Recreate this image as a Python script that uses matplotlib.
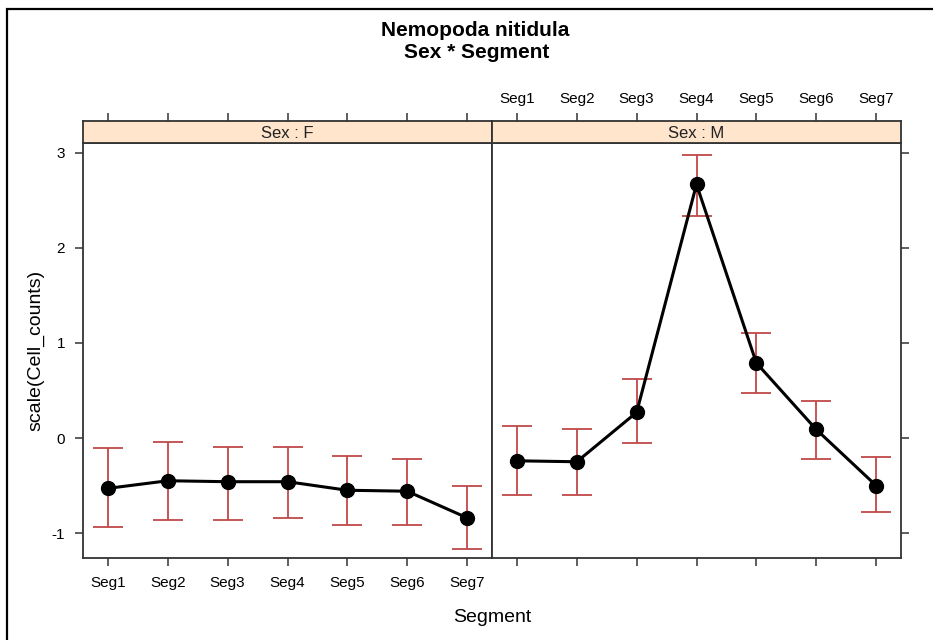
import matplotlib.pyplot as plt
from matplotlib.patches import Rectangle

plt.rcParams['font.family'] = ['Liberation Sans', 'DejaVu Sans']
plt.rcParams['axes.unicode_minus'] = False

# Effect estimates with confidence limits, one list per sex
segments = ['Seg1', 'Seg2', 'Seg3', 'Seg4', 'Seg5', 'Seg6', 'Seg7']

fit_f = [-0.53, -0.45, -0.46, -0.46, -0.55, -0.56, -0.84]
upper_f = [-0.10, -0.04, -0.09, -0.09, -0.19, -0.22, -0.50]
lower_f = [-0.94, -0.86, -0.86, -0.84, -0.92, -0.92, -1.17]

fit_m = [-0.24, -0.25, 0.27, 2.67, 0.79, 0.09, -0.50]
upper_m = [0.13, 0.09, 0.62, 2.98, 1.10, 0.39, -0.20]
lower_m = [-0.60, -0.60, -0.05, 2.34, 0.47, -0.22, -0.78]

panels = [('Sex : F', fit_f, lower_f, upper_f),
          ('Sex : M', fit_m, lower_m, upper_m)]

W, H = 933, 640
fig = plt.figure(figsize=(W / 100, H / 100), dpi=100)

def box(x0, y0, x1, y1):
    # pixel box (top-left origin) -> figure fraction rect
    return [x0 / W, (H - y1) / H, (x1 - x0) / W, (y1 - y0) / H]

edge = '#333333'
bar_col = '#C04848'
xs = list(range(1, len(segments) + 1))
xlim = (1 - 25 / 60, len(segments) + 25 / 60)
ylim = (-1.263, 3.105)

for i, (strip_txt, fit, lo, hi) in enumerate(panels):
    x0 = 83 + i * 409
    ax = fig.add_axes(box(x0, 143, x0 + 409, 558))
    strip = fig.add_axes(box(x0, 121, x0 + 409, 143))

    err = [[f - l for f, l in zip(fit, lo)], [h - f for f, h in zip(fit, hi)]]
    ax.errorbar(xs, fit, yerr=err, fmt='none', ecolor=bar_col,
                elinewidth=1.3, capsize=10.5, capthick=1.3, zorder=2)
    ax.plot(xs, fit, color='black', linewidth=2.2, marker='o',
            markersize=10, zorder=3)

    ax.set_xlim(xlim)
    ax.set_ylim(ylim)
    ax.set_xticks(xs)
    ax.set_yticks([-1, 0, 1, 2, 3])
    for s in ax.spines.values():
        s.set_color(edge)
        s.set_linewidth(1.3)

    ax.tick_params(length=6, width=1.1, color=edge, labelsize=11,
                   direction='out', pad=7)
    if i == 0:
        ax.set_xticklabels(segments)
        ax.tick_params(axis='y', left=True, labelleft=True, right=False)
        ax.set_ylabel('scale(Cell_counts)', fontsize=14, labelpad=5)
    else:
        ax.set_xticklabels([])
        ax.tick_params(axis='y', left=False, labelleft=False,
                       right=True, labelright=False)

    # strip header with top ticks
    strip.set_facecolor('#FFE5CC')
    strip.set_xlim(xlim)
    strip.set_ylim(0, 1)
    strip.set_yticks([])
    strip.set_xticks(xs)
    strip.xaxis.tick_top()
    strip.tick_params(axis='x', length=6, width=1.1, color=edge,
                      labelsize=11, pad=5, bottom=False)
    if i == 1:
        strip.set_xticklabels(segments)
    else:
        strip.set_xticklabels([])
    for s in strip.spines.values():
        s.set_color(edge)
        s.set_linewidth(1.3)
    strip.text(0.5, 0.45, strip_txt, transform=strip.transAxes,
               ha='center', va='center', fontsize=12, color='#222222')

fig.text(475 / W, 1 - 31 / H, 'Nemopoda nitidula', ha='center', va='center',
         fontsize=15, fontweight='bold')
fig.text(477 / W, 1 - 52 / H, 'Sex * Segment', ha='center', va='center',
         fontsize=15, fontweight='bold')
fig.text(492 / W, 1 - 618 / H, 'Segment', ha='center', va='center',
         fontsize=14)

# outer frame
fig.patches.append(Rectangle((7 / W, -0.1), 1.2, 1.1 - 9 / H,
                             transform=fig.transFigure, fill=False,
                             edgecolor='black', linewidth=1.6))

fig.savefig('out.png', dpi=100)
